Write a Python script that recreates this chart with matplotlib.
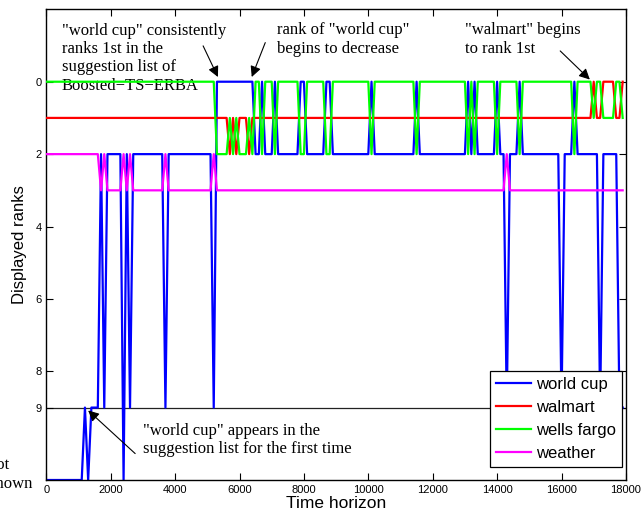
import matplotlib
matplotlib.use("Agg")
import matplotlib.pyplot as plt

# ---- data (time, displayed rank); rank 11 = "not shown" ----
wc_t = [0, 1100, 1200, 1300, 1400, 1600, 1700, 1800, 1900, 2300, 2400, 2500, 2600, 2700,
        3600, 3700, 3800, 5100, 5200, 5300, 6400, 6500, 6600, 6700, 6800, 7000, 7100, 7200,
        7800, 7900, 8000, 8100, 8600, 8700, 8800, 8900, 10000, 10100, 10200, 11400, 11500,
        11600, 13000, 13100, 13200, 13300, 13400, 13900, 14000, 14100, 14200, 14300, 14400,
        14600, 14700, 14800, 15900, 16000, 16100, 16300, 16400, 16500, 17100, 17200, 17300,
        17700, 17800, 17900]
wc_r = [11, 11, 9, 11, 9, 9, 2, 9, 2, 2, 11, 2, 9, 2,
        2, 9, 2, 2, 9, 0, 0, 2, 2, 0, 2, 2, 0, 2,
        2, 0, 0, 2, 2, 0, 0, 2, 2, 0, 2, 2, 0,
        2, 2, 0, 2, 0, 2, 2, 0, 2, 2, 9, 2,
        2, 0, 2, 2, 9, 2, 2, 0, 2, 2, 9, 2,
        2, 9, 9]

wm_t = [0, 5600, 5700, 5800, 5900, 6000, 6200, 6300, 6400, 16900, 17000, 17100, 17200,
        17300, 17600, 17700, 17800, 17900]
wm_r = [1, 1, 2, 1, 2, 1, 1, 2, 1, 1, 0, 1, 1,
        0, 0, 1, 1, 0]

wf_t = [0, 5200, 5300, 5600, 5700, 5800, 5900, 6000, 6200, 6300, 6400, 6500, 6600, 6700,
        6800, 7000, 7100, 7200, 7800, 7900, 8000, 8100, 8600, 8700, 8800, 8900, 10000,
        10100, 10200, 11400, 11500, 11600, 13000, 13100, 13200, 13300, 13400, 13900, 14000,
        14100, 14600, 14700, 14800, 16300, 16400, 16500, 16900, 17000, 17100, 17200, 17300,
        17600, 17700, 17800, 17900]
wf_r = [0, 0, 2, 2, 1, 2, 1, 2, 2, 1, 2, 0, 0, 2,
        0, 0, 2, 0, 0, 2, 2, 0, 0, 2, 2, 0, 0,
        2, 0, 0, 2, 0, 0, 2, 0, 2, 0, 0, 2,
        0, 0, 2, 0, 0, 2, 0, 0, 1, 0, 0, 1,
        1, 0, 0, 1]

we_t = [0, 1600, 1700, 1800, 1900, 2300, 2400, 2500, 2600, 2700, 3600, 3700, 3800, 5100,
        5200, 5300, 14200, 14300, 14400, 17900]
we_r = [2, 2, 3, 2, 3, 3, 2, 3, 2, 3, 3, 2, 3, 3,
        2, 3, 3, 2, 3, 3]

series_names = ["world cup", "walmart", "wells fargo", "weather"]
x_ticks = [0, 2000, 4000, 6000, 8000, 10000, 12000, 14000, 16000, 18000]
y_ticks = [0, 2, 4, 6, 8, 9]

SANS = ["Liberation Sans", "DejaVu Sans"]
SERIF = ["Liberation Serif", "DejaVu Serif"]

fig = plt.figure(figsize=(6.43, 5.15), dpi=100)
ax = fig.add_axes([46.3 / 643, 1 - 480 / 515, (625.9 - 46.3) / 643, (480 - 9.3) / 515])

ax.axhline(9, color="#222222", lw=0.9, zorder=1)

lw = 1.6
ax.plot(wc_t, wc_r, color=(0, 0, 1), lw=lw, label=series_names[0], zorder=2)
ax.plot(wm_t, wm_r, color=(1, 0, 0), lw=lw, label=series_names[1], zorder=3)
ax.plot(wf_t, wf_r, color=(0, 1, 0), lw=lw, label=series_names[2], zorder=4)
ax.plot(we_t, we_r, color=(1, 0, 1), lw=lw, label=series_names[3], zorder=5)

ax.set_xlim(0, 18000)
ax.set_ylim(11, -2)
ax.set_xticks(x_ticks)
ax.set_yticks(y_ticks)
ax.tick_params(direction="in", top=True, right=True, length=5, width=0.8, labelsize=8)
for lab in ax.get_xticklabels() + ax.get_yticklabels():
    lab.set_family(SANS)
for s in ax.spines.values():
    s.set_linewidth(1.0)

ax.set_xlabel("Time horizon", fontsize=12.5, family=SANS, labelpad=1)
ax.set_ylabel("Displayed ranks", fontsize=12, family=SANS, labelpad=6)

tkw = dict(fontsize=12, family=SERIF, linespacing=1.2)

# "not shown" label, partly cut at the left edge of the figure as in the original
ax.text(-1780, 10.85, "not\nshown", ha="left", va="center", clip_on=False, **tkw)

ap = dict(arrowstyle="-|>", color="k", lw=0.8, mutation_scale=16, shrinkA=0, shrinkB=0)

ax.text(488, -0.65, "\"world cup\" consistently\nranks 1st in the\nsuggestion list of\nBoosted\u2212TS\u2212ERBA",
        ha="left", va="center", **tkw)
ax.annotate("", xy=(5330, -0.13), xytext=(4870, -0.99), arrowprops=ap)

ax.text(7170, -1.17, "rank of \"world cup\"\nbegins to decrease", ha="left", va="center", **tkw)
ax.annotate("", xy=(6380, -0.13), xytext=(6800, -1.08), arrowprops=ap)

ax.text(13010, -1.17, "\"walmart\" begins\nto rank 1st", ha="left", va="center", **tkw)
ax.annotate("", xy=(16880, -0.06), xytext=(15960, -0.85), arrowprops=ap)

ax.text(3000, 9.9, "\"world cup\" appears in the\nsuggestion list for the first time",
        ha="left", va="center", **tkw)
ax.annotate("", xy=(1300, 9.08), xytext=(2760, 10.27), arrowprops=ap)

leg = ax.legend(loc="lower right", bbox_to_anchor=(0.9928, 0.0276), borderaxespad=0,
                prop={"family": SANS, "size": 12}, frameon=True, fancybox=False,
                edgecolor="k", framealpha=1, handlelength=2.1, handletextpad=0.3,
                labelspacing=0.48, borderpad=0.35)
leg.get_frame().set_linewidth(0.9)
leg.set_zorder(10)

fig.savefig("out.png", dpi=100)
